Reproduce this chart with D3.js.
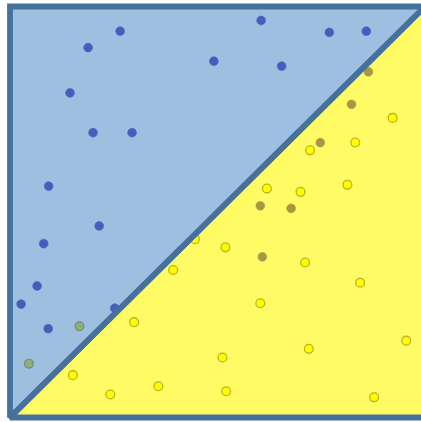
<!DOCTYPE html>
<html>
<head>
<meta charset="utf-8">
<script src="https://cdn.jsdelivr.net/npm/d3@7"></script>
<style>
  html, body { margin: 0; padding: 0; background: #ffffff; }
  svg { display: block; }
</style>
</head>
<body>
<svg id="chart" width="421" height="422"></svg>
<script>
// Class A points (upper-left region)
const blueX = [2.68, 1.90, 6.11, 7.77, 8.67, 4.96, 6.61, 1.46, 2.02, 2.97, 0.94, 2.17, 0.82, 0.66, 0.27, 0.93, 2.55];
const blueY = [9.40, 9.00, 9.66, 9.37, 9.40, 8.67, 8.55, 7.90, 6.93, 6.93, 5.63, 4.66, 4.23, 3.20, 2.76, 2.16, 2.66];

// Class B points that fall in the upper-left region
const greenX = [1.69, 0.46];
const greenY = [2.22, 1.31];

// Class A points that fall in the lower-right region
const oliveX = [8.72, 8.31, 7.55, 6.09, 6.84, 6.14];
const oliveY = [8.41, 7.62, 6.69, 5.15, 5.09, 3.91];

// Class B points (lower-right region)
const yellowX = [9.31, 8.40, 7.30, 6.25, 8.21, 7.07, 4.50, 5.24, 7.18, 3.97, 8.52, 6.09, 3.02, 9.64, 7.27, 5.17, 1.53, 3.61, 5.26, 2.44, 8.86];
const yellowY = [7.29, 6.69, 6.50, 5.57, 5.66, 5.49, 4.34, 4.14, 3.77, 3.59, 3.28, 2.78, 2.32, 1.87, 1.67, 1.46, 1.03, 0.76, 0.64, 0.56, 0.49];

// Region corners in data units
const upperRegion = [[0, 0], [0, 10], [10, 10]];
const lowerRegion = [[0, 0], [10, 10], [10, 0]];

const svg = d3.select("#chart");
const x = d3.scaleLinear().domain([0, 10]).range([10, 425]);
const y = d3.scaleLinear().domain([0, 10]).range([417.5, 6.5]);

// Point positions were laid out on a 411px square grid
const xp = d3.scaleLinear().domain([0, 10]).range([10, 421]);

const line = d3.line().x(d => x(d[0])).y(d => y(d[1])).curve(d3.curveLinearClosed);

// Region fills
svg.append("path").attr("d", line(upperRegion)).attr("fill", "#9ebfdf");
svg.append("path").attr("d", line(lowerRegion)).attr("fill", "#fffb64");

function dots(xs, ys, fill, stroke, sw) {
  svg.append("g").selectAll("circle")
    .data(xs.map((v, i) => [v, ys[i]]))
    .join("circle")
    .attr("cx", d => xp(d[0]))
    .attr("cy", d => y(d[1]))
    .attr("r", 4.4)
    .attr("fill", fill)
    .attr("stroke", stroke)
    .attr("stroke-width", sw);
}

dots(blueX, blueY, "#4a5bc0", "#4e62b8", 0.6);
dots(greenX, greenY, "#8fad77", "#6f8f78", 1.2);
dots(oliveX, oliveY, "#a89642", "#a99a48", 0.6);
dots(yellowX, yellowY, "#ffff00", "#bdb21e", 1.3);

// Region outlines on top
[upperRegion, lowerRegion].forEach(r => {
  svg.append("path")
    .attr("d", line(r))
    .attr("fill", "none")
    .attr("stroke", "#45719f")
    .attr("stroke-width", 5.8)
    .attr("stroke-linejoin", "miter")
    .attr("stroke-miterlimit", 2);
});
</script>
</body>
</html>
